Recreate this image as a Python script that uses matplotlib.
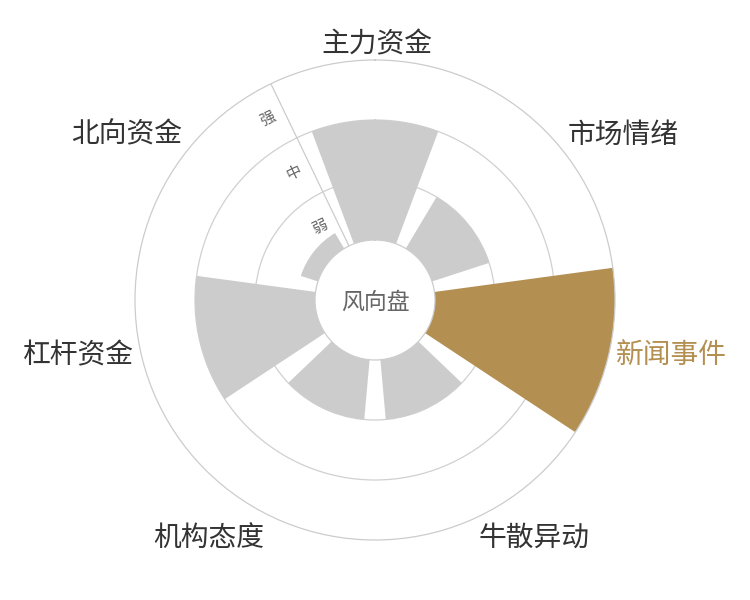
import numpy as np
import matplotlib
matplotlib.use("Agg")
import matplotlib.pyplot as plt

plt.rcParams['font.family'] = ['Noto Sans CJK SC', 'DejaVu Sans']

categories = ['主力资金', '市场情绪', '新闻事件', '牛散异动', '机构态度', '杠杆资金', '北向资金']
values = [2.0, 1.0, 3.0, 1.0, 1.0, 2.0, 0.3]
highlight = '新闻事件'
level_labels = ['弱', '中', '强']
level_pos = [0.5, 1.5, 2.5]
center_label = '风向盘'

GRAY = '#cccccc'
BROWN = '#b48f52'
TEXT = '#333333'

fig = plt.figure(figsize=(7.5, 6), dpi=100)
ax = fig.add_axes([0.18, 0.10, 0.64, 0.80], projection='polar')
ax.set_theta_zero_location('N')
ax.set_theta_direction(-1)
ax.set_rlim(0, 3)
ax.set_rorigin(-1)

n = len(categories)
step = 2 * np.pi / n
theta = np.arange(n) * step
colors = [BROWN if c == highlight else GRAY for c in categories]
ax.bar(theta, values, width=step * 0.8, bottom=0, color=colors, edgecolor='none', zorder=2)

ax.set_xticks([])
ax.set_yticks([1, 2])
ax.set_yticklabels([])
ax.yaxis.grid(True, color='#d0d0d0', linewidth=0.9)
ax.xaxis.grid(False)
ax.set_axisbelow(True)
for name, sp in ax.spines.items():
    sp.set_color('#cccccc')
    sp.set_linewidth(0.9)

# radial axis line between 北向资金 and 主力资金
theta_a = -step / 2
ax.plot([theta_a, theta_a], [0, 3], color='#cccccc', linewidth=0.9, zorder=1)
phi_a = np.pi / 2 - theta_a  # math angle
perp = np.array([-np.sin(phi_a), np.cos(phi_a)]) * 18
for lab, r in zip(level_labels, level_pos):
    ax.annotate(lab, xy=(theta_a, r), xytext=(perp[0], perp[1]), textcoords='offset pixels',
                ha='center', va='center', rotation=np.degrees(phi_a) - 90,
                fontsize=11, color='#666666', annotation_clip=False)

# category labels
R = 247 / 60 - 1
for t, c in zip(theta, categories):
    phi = np.pi / 2 - t
    cx, sy = np.cos(phi), np.sin(phi)
    ha = 'left' if cx > 0.3 else ('right' if cx < -0.3 else 'center')
    va = 'bottom' if sy > 0.3 else ('top' if sy < -0.3 else 'center')
    dy = -6 * sy if sy > 0.3 else 0
    dx = 2 if ha == 'center' else (-4 if va == 'top' else 0)
    ax.annotate(c, xy=(t, R), xytext=(dx, dy), textcoords='offset pixels',
                ha=ha, va=va, fontsize=20,
                color=BROWN if c == highlight else TEXT, annotation_clip=False)

fig.text(0.5, 0.497, center_label, ha='center', va='center', fontsize=16.5, color='#666666')

fig.savefig('out.png', dpi=100, facecolor='white')
